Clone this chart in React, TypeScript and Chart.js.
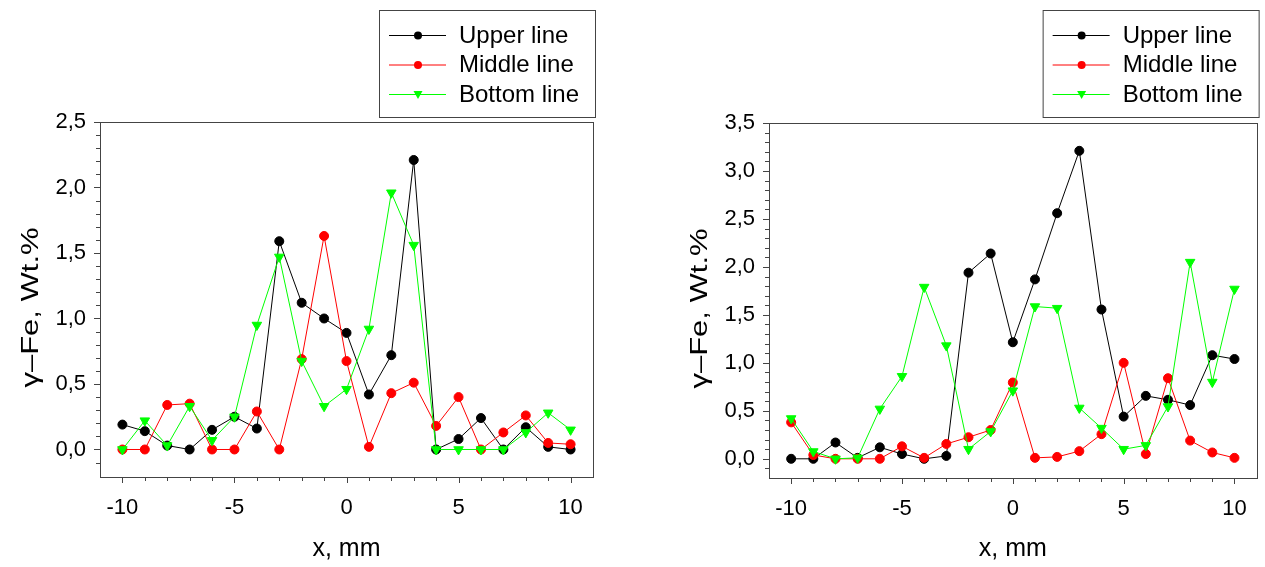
import React, { useEffect, useRef } from 'react';
import { Chart, registerables } from 'chart.js';

Chart.register(...registerables);

// ---------- data ----------
const X_POSITIONS = [-10, -9, -8, -7, -6, -5, -4, -3, -2, -1, 0, 1, 2, 3, 4, 5, 6, 7, 8, 9, 10];
const X_TICKS = [-10, -5, 0, 5, 10];
const LEFT_Y_TICKS = [0, 0.5, 1.0, 1.5, 2.0, 2.5];
const RIGHT_Y_TICKS = [0, 0.5, 1.0, 1.5, 2.0, 2.5, 3.0, 3.5];
const SERIES_NAMES = ['Upper line', 'Middle line', 'Bottom line'];
const X_TITLE = 'x, mm';
const Y_TITLE = 'γ–Fe, Wt.%';

const LEFT_UPPER = [0.19, 0.14, 0.03, 0.0, 0.15, 0.25, 0.16, 1.59, 1.12, 1.0, 0.89, 0.42, 0.72, 2.21, 0.0, 0.08, 0.24, 0.0, 0.17, 0.02, 0.0];
const LEFT_MIDDLE = [0.0, 0.0, 0.34, 0.35, 0.0, 0.0, 0.29, 0.0, 0.69, 1.63, 0.675, 0.02, 0.43, 0.51, 0.18, 0.4, 0.0, 0.13, 0.26, 0.05, 0.04];
const LEFT_BOTTOM = [0.0, 0.22, 0.03, 0.33, 0.07, 0.25, 0.95, 1.47, 0.675, 0.33, 0.46, 0.92, 1.96, 1.56, 0.0, 0.0, 0.0, 0.0, 0.13, 0.28, 0.15];

const RIGHT_UPPER = [0.0, 0.0, 0.17, 0.01, 0.12, 0.05, 0.0, 0.03, 1.94, 2.14, 1.215, 1.87, 2.56, 3.21, 1.556, 0.44, 0.656, 0.615, 0.56, 1.08, 1.04];
const RIGHT_MIDDLE = [0.38, 0.04, 0.0, 0.0, 0.0, 0.13, 0.01, 0.155, 0.225, 0.3, 0.795, 0.01, 0.02, 0.08, 0.257, 1.0, 0.05, 0.84, 0.19, 0.066, 0.01];
const RIGHT_BOTTOM = [0.42, 0.076, 0.0, 0.01, 0.52, 0.86, 1.79, 1.18, 0.1, 0.285, 0.71, 1.587, 1.57, 0.53, 0.32, 0.1, 0.14, 0.545, 2.05, 0.8, 1.77];

// ---------- styles ----------
const COLORS = ['#000000', '#ff0000', '#00ff00'];
const FONT = "'Liberation Sans', Arial, sans-serif";

type Area = { left: number; right: number; top: number; bottom: number };

const framePlugin = {
  id: 'frameTicks',
  beforeDatasetsDraw(chart: any) {
    const { ctx, chartArea: a, scales } = chart;
    const xs = scales.x;
    const ys = scales.y;
    ctx.save();
    ctx.strokeStyle = '#444';
    ctx.lineWidth = 1;
    ctx.strokeRect(Math.round(a.left) + 0.5, Math.round(a.top) + 0.5, Math.round(a.right - a.left), Math.round(a.bottom - a.top));
    ctx.beginPath();
    for (let v = -10; v <= 10; v++) {
      const px = Math.round(xs.getPixelForValue(v)) + 0.5;
      const len = v % 5 === 0 ? 6 : 4;
      ctx.moveTo(px, Math.round(a.bottom));
      ctx.lineTo(px, Math.round(a.bottom) + len);
    }
    for (let i = -1; i <= Math.round(ys.max * 10); i++) {
      const v = i / 10;
      const py = Math.round(ys.getPixelForValue(v)) + 0.5;
      if (py < a.top || py > a.bottom) continue;
      const len = i % 5 === 0 ? 6 : 4;
      ctx.moveTo(Math.round(a.left), py);
      ctx.lineTo(Math.round(a.left) - len, py);
    }
    ctx.stroke();
    ctx.restore();
  },
  afterDraw(chart: any) {
    const { ctx, chartArea: a } = chart;
    // y axis title (slightly condensed, as in the original figure)
    ctx.save();
    ctx.translate(a.left - 69, (a.top + a.bottom) / 2 + 8);
    ctx.rotate(-Math.PI / 2);
    ctx.scale(1, 0.78);
    ctx.fillStyle = '#000';
    ctx.font = `31px ${FONT}`;
    ctx.textAlign = 'center';
    ctx.textBaseline = 'middle';
    ctx.fillText(chart.options.scales.y.title.text, 0, 0);
    ctx.restore();

    // legend
    const left = a.right + 2 - 216;
    const top = 10;
    const w = 216;
    const h = 107;
    ctx.save();
    ctx.fillStyle = '#fff';
    ctx.fillRect(left, top, w, h);
    ctx.strokeStyle = '#444';
    ctx.lineWidth = 1;
    ctx.strokeRect(left + 0.5, top + 0.5, w, h);
    const rows = [35, 64.5, 94];
    SERIES_NAMES.forEach((name, i) => {
      const y = rows[i];
      ctx.strokeStyle = COLORS[i];
      ctx.lineWidth = 1;
      ctx.beginPath();
      ctx.moveTo(left + 10, y + 0.5);
      ctx.lineTo(left + 67, y + 0.5);
      ctx.stroke();
      ctx.fillStyle = COLORS[i];
      const cx = left + 39;
      ctx.beginPath();
      if (i < 2) {
        ctx.arc(cx, y + 0.5, 4, 0, Math.PI * 2);
      } else {
        ctx.moveTo(cx - 4.5, y - 3);
        ctx.lineTo(cx + 4.5, y - 3);
        ctx.lineTo(cx, y + 5);
        ctx.closePath();
      }
      ctx.fill();
      ctx.fillStyle = '#000';
      ctx.font = `24px ${FONT}`;
      ctx.textBaseline = 'middle';
      ctx.textAlign = 'left';
      ctx.fillText(name, left + 80, y + 1);
    });
    ctx.restore();
  },
};

function makeDataset(label: string, values: number[], idx: number) {
  return {
    label,
    data: X_POSITIONS.map((x, i) => ({ x, y: values[i] })),
    borderColor: COLORS[idx],
    backgroundColor: COLORS[idx],
    pointBackgroundColor: COLORS[idx],
    pointBorderColor: COLORS[idx],
    borderWidth: 1,
    pointBorderWidth: 1,
    pointRadius: idx === 2 ? 5.5 : 4.5,
    pointStyle: idx === 2 ? 'triangle' : 'circle',
    pointRotation: idx === 2 ? 180 : 0,
    tension: 0,
    order: 3 - idx,
  };
}

function makeConfig(series: number[][], yMin: number, yMax: number, yTicks: number[], area: Area, W: number, H: number): any {
  return {
    type: 'line',
    data: {
      datasets: series.map((s, i) => makeDataset(SERIES_NAMES[i], s, i)),
    },
    plugins: [framePlugin],
    options: {
      animation: false,
      responsive: false,
      maintainAspectRatio: false,
      layout: { padding: { left: 0, top: area.top, right: W - area.right, bottom: 0 } },
      plugins: { legend: { display: false }, tooltip: { enabled: false } },
      scales: {
        x: {
          type: 'linear',
          min: -11,
          max: 11,
          afterBuildTicks: (s: any) => {
            s.ticks = X_TICKS.map((v) => ({ value: v }));
          },
          afterFit: (s: any) => {
            s.height = H - area.bottom;
          },
          grid: { display: false, drawTicks: false },
          border: { display: false },
          ticks: {
            color: '#000',
            font: { family: FONT, size: 22 },
            padding: 18,
            maxRotation: 0,
            autoSkip: false,
            callback: (v: number) => String(v),
          },
          title: {
            display: true,
            text: X_TITLE,
            color: '#000',
            font: { family: FONT, size: 25 },
            padding: { top: 0, bottom: 3 },
          },
        },
        y: {
          type: 'linear',
          min: yMin,
          max: yMax,
          afterBuildTicks: (s: any) => {
            s.ticks = yTicks.map((v) => ({ value: v }));
          },
          afterFit: (s: any) => {
            s.width = area.left;
          },
          grid: { display: false, drawTicks: false },
          border: { display: false },
          ticks: {
            color: '#000',
            font: { family: FONT, size: 22 },
            padding: 14,
            autoSkip: false,
            callback: (v: number) => v.toFixed(1).replace('.', ','),
          },
          title: {
            display: false,
            text: Y_TITLE,
          },
        },
      },
    },
  };
}

function ChartPanel(props: { series: number[][]; yMin: number; yMax: number; yTicks: number[]; area: Area; x: number; W: number; H: number }) {
  const ref = useRef<HTMLCanvasElement>(null);
  useEffect(() => {
    if (!ref.current) return;
    const chart = new Chart(ref.current, makeConfig(props.series, props.yMin, props.yMax, props.yTicks, props.area, props.W, props.H));
    return () => chart.destroy();
  }, []);
  return (
    <canvas
      ref={ref}
      width={props.W}
      height={props.H}
      style={{ position: 'absolute', left: props.x, top: 0, width: props.W, height: props.H }}
    />
  );
}

export default function App() {
  return (
    <div style={{ position: 'absolute', left: 0, top: 0, width: 1265, height: 567, background: '#fff', overflow: 'hidden' }}>
      <ChartPanel
        series={[LEFT_UPPER, LEFT_MIDDLE, LEFT_BOTTOM]}
        yMin={-0.21}
        yMax={2.5}
        yTicks={LEFT_Y_TICKS}
        area={{ left: 100, right: 593, top: 122, bottom: 477 }}
        x={0}
        W={620}
        H={567}
      />
      <ChartPanel
        series={[RIGHT_UPPER, RIGHT_MIDDLE, RIGHT_BOTTOM]}
        yMin={-0.2}
        yMax={3.5}
        yTicks={RIGHT_Y_TICKS}
        area={{ left: 129, right: 622, top: 123, bottom: 478 }}
        x={640}
        W={625}
        H={567}
      />
    </div>
  );
}
